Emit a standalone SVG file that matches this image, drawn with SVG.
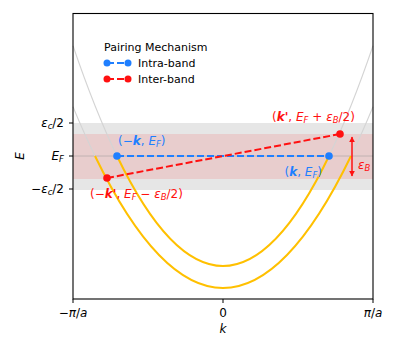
<svg xmlns="http://www.w3.org/2000/svg" width="397" height="353" viewBox="0 0 397 353">
<style>
text{font-family:"DejaVu Sans","Liberation Sans",sans-serif;font-size:12px;fill:#000}
.it{font-style:italic}
.bi{font-style:italic;font-weight:bold}
.sub{font-size:8.5px;font-style:italic}
.blue{fill:#1f7fff}
.red{fill:#ff1010}
.leg{font-size:11px}
.gcurve{fill:none;stroke:#d4d4d4;stroke-width:1.1}
.ycurve{fill:none;stroke:#ffc000;stroke-width:2}
.intra{stroke:#1f7fff;stroke-width:2;stroke-dasharray:7,3;fill:none}
.inter{stroke:#ff1010;stroke-width:2;stroke-dasharray:7,3;fill:none}
.tick{stroke:#000;stroke-width:1}
</style>
<defs>
<marker id="ah" viewBox="0 0 10 10" refX="9" refY="5" markerWidth="4" markerHeight="4" orient="auto-start-reverse"><path d="M0,0 L10,5 L0,10 z" fill="#ff1010"/></marker>
</defs>
<rect width="397" height="353" fill="#fff"/>
<g id="bands">
<rect x="73" y="123" width="300" height="67" fill="#e6e6e6"/>
<rect x="73" y="134" width="300" height="45" fill="#e8cdcd"/>
<line x1="73" y1="156" x2="373" y2="156" stroke="#a8a0a0" stroke-opacity="0.6" stroke-width="1"/>
</g>
<g id="bands-curves">
<path class="gcurve" d="M73,45.7 Q95,110.3 117,156"/>
<path class="gcurve" d="M329,156 Q351,110.3 373,45.7"/>
<path class="gcurve" d="M73,106.7 Q84,133.3 95,156"/>
<path class="gcurve" d="M351,156 Q362,133.3 373,106.7"/>
<path class="ycurve" d="M117,156 Q223,376 329,156"/>
<path class="ycurve" d="M95,156 Q223,420 351,156"/>
</g>
<g id="connectors">
<line class="intra" x1="117" y1="156" x2="329" y2="156"/>
<line class="inter" x1="107" y1="178" x2="340" y2="134"/>
<line x1="352" y1="137" x2="352" y2="176" stroke="#ff1010" stroke-width="1.5" marker-start="url(#ah)" marker-end="url(#ah)"/>
</g>
<g id="node-minus-k">
<circle cx="117" cy="156" r="3.8" fill="#1f7fff"/>
<text x="118" y="145" class="blue">(−<tspan class="bi">k</tspan>, <tspan class="it">E</tspan><tspan class="sub" dy="2">F</tspan><tspan dy="-2">)</tspan></text>
</g>
<g id="node-k">
<circle cx="329" cy="156" r="3.8" fill="#1f7fff"/>
<text x="322" y="176" text-anchor="end" class="blue">(<tspan class="bi">k</tspan>, <tspan class="it">E</tspan><tspan class="sub" dy="2">F</tspan><tspan dy="-2">)</tspan></text>
</g>
<g id="node-kprime">
<circle cx="340" cy="134" r="3.8" fill="#ff1010"/>
<text x="272" y="121" class="red">(<tspan class="bi">k'</tspan>, <tspan class="it">E</tspan><tspan class="sub" dy="2">F</tspan><tspan dy="-2"> + </tspan><tspan class="it">ε</tspan><tspan class="sub" dy="2">B</tspan><tspan dy="-2">/2)</tspan></text>
</g>
<g id="node-minus-kprime">
<circle cx="107" cy="178" r="3.8" fill="#ff1010"/>
<text x="90" y="198" class="red">(−<tspan class="bi">k'</tspan>, <tspan class="it">E</tspan><tspan class="sub" dy="2">F</tspan><tspan dy="-2"> − </tspan><tspan class="it">ε</tspan><tspan class="sub" dy="2">B</tspan><tspan dy="-2">/2)</tspan></text>
</g>
<g id="epsB">
<text x="358" y="169" class="red"><tspan class="it">ε</tspan><tspan class="sub" dy="2">B</tspan></text>
</g>
<g id="axes">
<rect x="73" y="13.5" width="300" height="285.5" fill="none" stroke="#000" stroke-width="1.1"/>
<line class="tick" x1="69" y1="123" x2="73" y2="123"/>
<line class="tick" x1="69" y1="156" x2="73" y2="156"/>
<line class="tick" x1="69" y1="189" x2="73" y2="189"/>
<line class="tick" x1="73" y1="299" x2="73" y2="303"/>
<line class="tick" x1="223" y1="299" x2="223" y2="303"/>
<line class="tick" x1="373" y1="299" x2="373" y2="303"/>
<text x="64" y="127" text-anchor="end"><tspan class="it">ε</tspan><tspan class="sub" dy="2">c</tspan><tspan dy="-2">/2</tspan></text>
<text x="64" y="160" text-anchor="end"><tspan class="it">E</tspan><tspan class="sub" dy="2">F</tspan></text>
<text x="64" y="193" text-anchor="end">−<tspan class="it">ε</tspan><tspan class="sub" dy="2">c</tspan><tspan dy="-2">/2</tspan></text>
<text x="73" y="317" text-anchor="middle">−<tspan class="it">π</tspan>/<tspan class="it">a</tspan></text>
<text x="223" y="317" text-anchor="middle">0</text>
<text x="373" y="317" text-anchor="middle"><tspan class="it">π</tspan>/<tspan class="it">a</tspan></text>
<text x="223" y="333" text-anchor="middle" class="it">k</text>
<text x="0" y="0" transform="translate(24,156) rotate(-90)" text-anchor="middle" class="it">E</text>
</g>
<g id="legend">
<text x="104" y="51" class="leg">Pairing Mechanism</text>
<line x1="107" y1="63" x2="128" y2="63" stroke="#1f7fff" stroke-width="2" stroke-dasharray="7,3"/>
<circle cx="107" cy="63" r="3.5" fill="#1f7fff"/>
<circle cx="128" cy="63" r="3.5" fill="#1f7fff"/>
<text x="138" y="67" class="leg">Intra-band</text>
<line x1="107" y1="79" x2="128" y2="79" stroke="#ff1010" stroke-width="2" stroke-dasharray="7,3"/>
<circle cx="107" cy="79" r="3.5" fill="#ff1010"/>
<circle cx="128" cy="79" r="3.5" fill="#ff1010"/>
<text x="138" y="83" class="leg">Inter-band</text>
</g>
</svg>
